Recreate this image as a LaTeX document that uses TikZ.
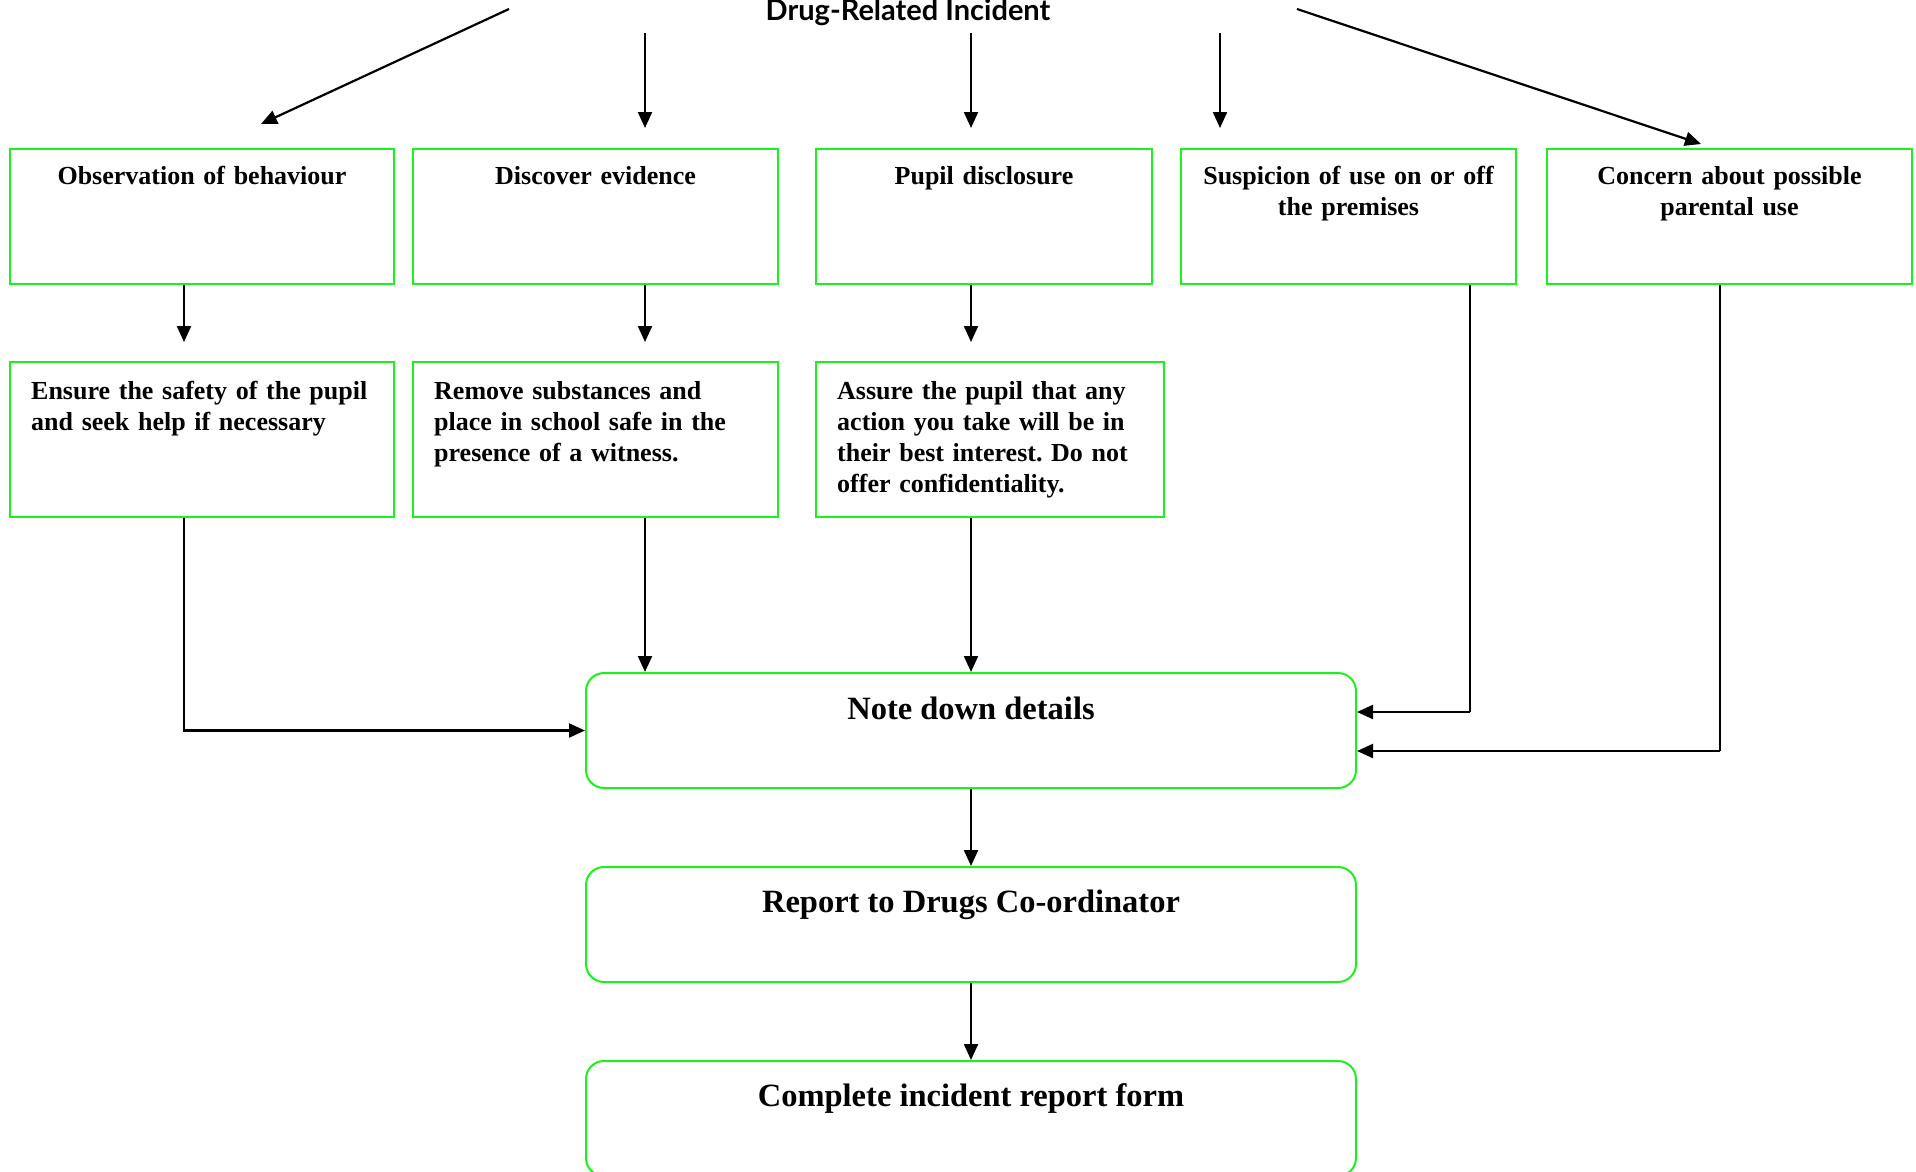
\documentclass[tikz,border=0pt]{standalone}
\usepackage{fontspec}
\setmainfont{Liberation Serif}
\newfontfamily\titlefont{Lato}
\usetikzlibrary{arrows.meta}
\definecolor{boxgreen}{RGB}{30,240,30}
\frenchspacing
\tikzset{
  sqbox/.style={draw=boxgreen, line width=2pt, inner sep=0pt},
  rbox/.style={draw=boxgreen, line width=2pt, inner sep=0pt, rounded corners=18pt, minimum width=770pt, minimum height=115pt},
  arr/.style={draw=black, line width=2.2pt, -{Triangle[length=16pt,width=14pt]}},
  plain/.style={draw=black, line width=2.2pt},
  ctext/.style={inner sep=0pt, anchor=base, align=center, text width=360pt, font=\bfseries\fontsize{26}{31}\selectfont},
  ltext/.style={inner sep=0pt, anchor=base west, align=left, text width=360pt, font=\bfseries\fontsize{26}{31}\selectfont},
  btext/.style={inner sep=0pt, anchor=base, align=center, font=\bfseries\fontsize{32.5}{38}\selectfont}
}
\begin{document}
\begin{tikzpicture}[x=1pt,y=-1pt]
\useasboundingbox (0,0) rectangle (1916,1172);

% title
\node[inner sep=0pt, anchor=base, font=\titlefont\bfseries\fontsize{29}{34}\selectfont] (title) at (908,21) {Drug-Related Incident};

% first row boxes
\node[sqbox, minimum width=384pt, minimum height=135pt] (b1) at (202,216.5) {};
\node[sqbox, minimum width=365pt, minimum height=135pt] (b2) at (595.5,216.5) {};
\node[sqbox, minimum width=336pt, minimum height=135pt] (b3) at (984,216.5) {};
\node[sqbox, minimum width=335pt, minimum height=135pt] (b4) at (1348.5,216.5) {};
\node[sqbox, minimum width=365pt, minimum height=135pt] (b5) at (1729.5,216.5) {};

\node[ctext] (t1) at (202,184) {Observation of behaviour};
\node[ctext] (t2) at (595.5,184) {Discover evidence};
\node[ctext] (t3) at (984,184) {Pupil disclosure};
\node[ctext] (t4) at (1348.5,184) {Suspicion of use on or off\\the premises};
\node[ctext] (t5) at (1729.5,184) {Concern about possible\\parental use};

% second row boxes
\node[sqbox, minimum width=384pt, minimum height=155pt] (b6) at (202,439.5) {};
\node[sqbox, minimum width=365pt, minimum height=155pt] (b7) at (595.5,439.5) {};
\node[sqbox, minimum width=348pt, minimum height=155pt] (b8) at (990,439.5) {};

\node[ltext] (t6) at (31,399) {Ensure the safety of the pupil\\and seek help if necessary};
\node[ltext] (t7) at (434,399) {Remove substances and\\place in school safe in the\\presence of a witness.};
\node[ltext] (t8) at (837,399) {Assure the pupil that any\\action you take will be in\\their best interest. Do not\\offer confidentiality.};

% bottom rounded boxes
\node[rbox] (note) at (971,730.5) {};
\node[rbox] (report) at (971,924.5) {};
\node[rbox] (complete) at (971,1118.5) {};

\node[btext] (t9) at (971,719) {Note down details};
\node[btext] (t10) at (971,912) {Report to Drugs Co-ordinator};
\node[btext] (t11) at (971,1106) {Complete incident report form};

% top arrows
\coordinate (s1) at (509,9);
\coordinate (e1) at (261,124);
\coordinate (s2) at (645,33);
\coordinate (e2) at (645,128);
\coordinate (s3) at (971,33);
\coordinate (e3) at (971,128);
\coordinate (s4) at (1220,33);
\coordinate (e4) at (1220,128);
\coordinate (s5) at (1297,9);
\coordinate (e5) at (1701,144);
\draw[arr] (s1) -- (e1);
\draw[arr] (s2) -- (e2);
\draw[arr] (s3) -- (e3);
\draw[arr] (s4) -- (e4);
\draw[arr] (s5) -- (e5);

% row1 -> row2
\coordinate (a1) at (184,342);
\coordinate (a2) at (645,342);
\coordinate (a3) at (971,342);
\draw[arr] (b1.south -| a1) -- (a1);
\draw[arr] (b2.south -| a2) -- (a2);
\draw[arr] (b3.south -| a3) -- (a3);

% row2 -> note
\draw[arr] (b6.south -| a1) |- (note.west);
\draw[arr] (b7.south -| a2) -- (note.north -| a2);
\draw[arr] (b8.south -| a3) -- (note.north -| a3);

% side boxes -> note
\coordinate (c4) at (1470,712);
\coordinate (c5) at (1720,751);
\draw[plain] (b4.south -| c4) -- (c4);
\draw[arr] (c4) -- (note.east |- c4);
\draw[plain] (b5.south -| c5) -- (c5);
\draw[arr] (c5) -- (note.east |- c5);

% chain
\draw[arr] (note.south) -- (report.north);
\draw[arr] (report.south) -- (complete.north);
\end{tikzpicture}
\end{document}
